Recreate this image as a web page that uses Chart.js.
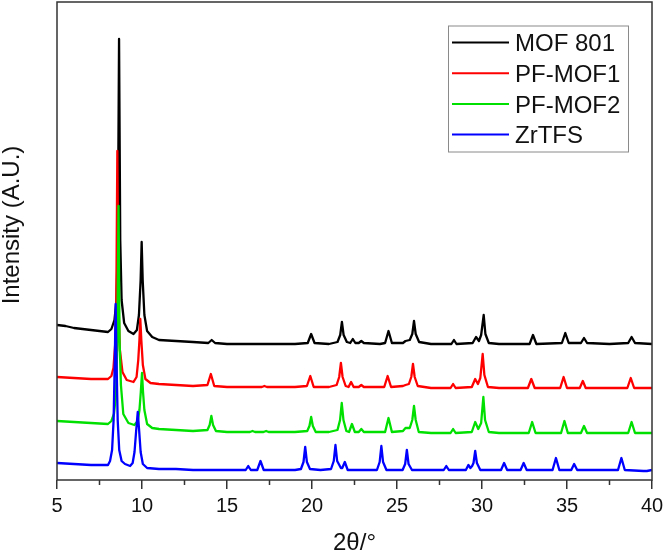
<!DOCTYPE html>
<html>
<head>
<meta charset="utf-8">
<script src="https://cdn.jsdelivr.net/npm/chart.js@4.4.0/dist/chart.umd.min.js"></script>
<style>
  html, body { margin: 0; padding: 0; background: #fff; }
  #wrap { width: 664px; height: 555px; }
</style>
</head>
<body>
<div id="wrap"><canvas id="c" width="664" height="555"></canvas></div>
<script>
// ---- data (2θ in degrees, intensity in arbitrary offset units) ----
const seriesNames = ["MOF 801", "PF-MOF1", "PF-MOF2", "ZrTFS"];
const seriesColors = ["#000000", "#ff0000", "#00e000", "#0000ff"];
const xTickLabels = [5, 10, 15, 20, 25, 30, 35, 40];
const xMinorTicks = [7.5, 12.5, 17.5, 22.5, 27.5, 32.5, 37.5];

const mof801 = [[5,155],[5.5,154],[6,152],[6.5,151],[7,150],[7.5,149],[8,148],[8.2,151],[8.38,160],[8.5,180],[8.58,240],[8.65,441],[8.72,240],[8.8,180],[8.95,157],[9.2,149],[9.5,146],[9.7,150],[9.82,165],[9.92,200],[9.98,238],[10.04,200],[10.14,165],[10.3,149],[10.6,143],[11,140],[12,139],[13,138],[13.9,137],[14.1,140],[14.3,137],[15,136],[16,136],[17,136],[18,136],[19,136],[19.75,137],[19.95,146],[20.15,137],[21,136],[21.5,138],[21.66,145],[21.76,158],[21.86,145],[22.05,138],[22.25,137],[22.4,141],[22.55,137],[22.75,137],[22.9,139],[23.05,137],[24,136],[24.3,137],[24.5,149],[24.7,137],[25.35,137],[25.5,139],[25.75,140],[25.9,146],[26,159],[26.1,146],[26.3,138],[27,136],[28.2,136],[28.35,140],[28.5,136],[29.45,137],[29.65,143],[29.82,139],[29.95,145],[30.1,165],[30.2,146],[30.4,137],[31,136],[32,136],[32.8,136],[33,145],[33.2,136],[34.7,137],[34.9,147],[35.1,137],[35.82,137],[36,142],[36.18,137],[37.5,136],[38.6,137],[38.8,143],[39,137],[40,136]];

const pfMof1 = [[5,103],[6,102],[7,101],[8,101],[8.2,104],[8.32,112],[8.42,135],[8.49,180],[8.55,329],[8.61,180],[8.7,130],[8.85,108],[9.1,100],[9.5,98],[9.68,103],[9.78,120],[9.85,140],[9.9,161],[9.96,140],[10.05,115],[10.2,101],[10.5,97],[11,96],[12,95],[13,94],[13.85,95],[14.05,106],[14.25,94],[15,93],[16,93],[17.05,93],[17.2,94],[17.35,93],[18,93],[19,93],[19.7,94],[19.9,104],[20.1,93],[21,93],[21.45,95],[21.6,103],[21.7,117],[21.8,103],[21.98,94],[22.15,93],[22.3,98],[22.45,93],[22.75,93],[22.9,95],[23.05,93],[24.25,93],[24.45,104],[24.65,93],[25.35,94],[25.5,95],[25.7,96],[25.84,103],[25.94,116],[26.04,103],[26.22,94],[27,92],[28.15,92],[28.3,96],[28.45,92],[29.4,93],[29.6,101],[29.76,96],[29.9,102],[30.04,126],[30.14,105],[30.35,93],[31,92],[32.7,92],[32.9,101],[33.1,92],[34.6,92],[34.8,103],[35,92],[35.75,92],[35.93,99],[36.1,92],[38.55,92],[38.75,102],[38.95,92],[40,92]];

const pfMof2 = [[5,59],[6,58],[7,57],[8,56],[8.2,59],[8.35,66],[8.47,85],[8.55,140],[8.62,274],[8.68,140],[8.76,95],[8.9,66],[9.2,57],[9.55,55],[9.75,59],[9.85,70],[9.93,88],[10,107],[10.06,88],[10.14,70],[10.3,56],[10.6,52],[11,51],[12,50],[13,49],[13.85,50],[13.98,55],[14.08,64],[14.18,55],[14.35,49],[15,48],[16.35,48],[16.5,49],[16.65,48],[17.15,48],[17.3,49],[17.45,48],[19,48],[19.72,49],[19.85,54],[19.95,63],[20.05,54],[20.22,48],[21,48],[21.5,50],[21.65,60],[21.75,77],[21.85,60],[22.02,49],[22.18,48],[22.35,56],[22.52,48],[22.75,48],[22.9,51],[23.05,48],[24.3,48],[24.5,62],[24.7,48],[25.35,49],[25.5,52],[25.75,52],[25.9,60],[26,74],[26.1,60],[26.28,48],[27,47],[28.15,47],[28.3,51],[28.45,47],[29.4,48],[29.6,58],[29.78,51],[29.95,57],[30.08,83],[30.18,60],[30.4,48],[31,47],[32.75,47],[32.95,58],[33.15,47],[34.65,47],[34.85,59],[35.05,47],[35.82,47],[36,54],[36.18,47],[38.6,47],[38.8,58],[39,47],[40,47]];

const zrTfs = [[5,17],[6,16],[7,15],[8,15],[8.12,19],[8.24,30],[8.33,60],[8.4,120],[8.45,176],[8.5,120],[8.57,60],[8.66,30],[8.8,19],[9,16],[9.3,14],[9.45,17],[9.56,28],[9.66,50],[9.75,68],[9.83,50],[9.92,28],[10.05,16],[10.3,12],[11,11],[12,11],[13,10],[15,10],[16.1,10],[16.25,14],[16.4,10],[16.78,10],[16.97,19],[17.16,10],[18,10],[19,10],[19.35,11],[19.5,18],[19.6,33],[19.7,18],[19.88,11],[20.5,10],[21.12,11],[21.28,19],[21.38,35],[21.48,19],[21.7,12],[21.78,12],[21.93,18],[22.1,10],[23,10],[23.82,10],[23.98,18],[24.08,34],[24.18,18],[24.38,10],[25.33,10],[25.48,16],[25.58,30],[25.68,16],[25.88,10],[27,10],[27.75,10],[27.9,14],[28.05,10],[29.05,10],[29.2,15],[29.32,12],[29.42,14],[29.5,17],[29.6,29],[29.7,17],[29.9,10],[31.12,10],[31.3,17],[31.48,10],[32.27,10],[32.45,17],[32.63,10],[34.15,10],[34.35,22],[34.55,10],[35.25,10],[35.42,16],[35.6,10],[38,10],[38.2,22],[38.4,10],[39.5,9],[39.7,9],[40,10]];

const allSeries = [mof801, pfMof1, pfMof2, zrTfs];

// ---- chart ----
const FONT = "'Liberation Sans', Arial, Helvetica, sans-serif";
const AXIS_COLOR = "#333333";

const framePlugin = {
  id: 'frame',
  afterDraw(chart) {
    const {ctx, chartArea: a, scales} = chart;
    ctx.save();
    ctx.strokeStyle = AXIS_COLOR;
    ctx.lineWidth = 1.5;
    ctx.strokeRect(a.left, a.top, a.right - a.left, a.bottom - a.top);
    ctx.beginPath();
    xMinorTicks.forEach(v => {
      const px = scales.x.getPixelForValue(v);
      ctx.moveTo(px, a.bottom);
      ctx.lineTo(px, a.bottom + 5);
    });
    ctx.stroke();
    ctx.fillStyle = '#111';
    ctx.font = "24px " + FONT;
    ctx.textAlign = 'center';
    ctx.textBaseline = 'middle';
    ctx.translate(12, 225);
    ctx.rotate(-Math.PI / 2);
    ctx.fillText('Intensity (A.U.)', 0, 0);
    ctx.restore();

    ctx.save();
    const bx = 448.5, by = 26, bw = 180, bh = 126;
    ctx.strokeStyle = '#8a8a8a';
    ctx.lineWidth = 1;
    ctx.strokeRect(bx, by, bw, bh);
    ctx.font = "24px " + FONT;
    ctx.textAlign = 'left';
    ctx.textBaseline = 'alphabetic';
    chart.data.datasets.forEach((ds, i) => {
      const ly = 42.5 + i * 30.7;
      ctx.strokeStyle = ds.borderColor;
      ctx.lineWidth = 2;
      ctx.beginPath();
      ctx.moveTo(452, ly);
      ctx.lineTo(509, ly);
      ctx.stroke();
      ctx.fillStyle = '#111';
      ctx.fillText(ds.label, 515, ly + 8.7);
    });
    ctx.restore();
  }
};

new Chart(document.getElementById('c'), {
  type: 'line',
  data: {
    datasets: allSeries.map((pts, i) => ({
      label: seriesNames[i],
      data: pts.map(p => ({x: p[0], y: p[1]})),
      borderColor: seriesColors[i],
      borderWidth: 2.3,
      borderJoinStyle: 'round',
      pointRadius: 0,
      tension: 0,
      fill: false,
      order: 4 - i
    }))
  },
  options: {
    responsive: false,
    animation: false,
    layout: { padding: { top: 2, right: 12, left: 0, bottom: 0 } },
    plugins: { legend: { display: false }, tooltip: { enabled: false } },
    scales: {
      x: {
        type: 'linear',
        min: 5, max: 40,
        afterBuildTicks(scale) { scale.ticks = xTickLabels.map(v => ({value: v})); },
        afterFit(scale) { scale.height = 75; scale.paddingLeft = 0; scale.paddingRight = 0; },
        ticks: {
          color: '#111',
          font: { family: FONT, size: 20 },
          padding: 5,
          maxRotation: 0,
          autoSkip: false
        },
        grid: {
          drawOnChartArea: false,
          drawTicks: true,
          tickLength: 9,
          tickColor: AXIS_COLOR,
          lineWidth: 1.5
        },
        border: { display: false },
        title: {
          display: true,
          text: '2θ/°',
          color: '#111',
          font: { family: FONT, size: 24, lineHeight: 1 },
          padding: { top: 0, bottom: 0 }
        }
      },
      y: {
        type: 'linear',
        min: 0, max: 478,
        afterFit(scale) { scale.width = 57; },
        ticks: { display: false },
        grid: { display: false },
        border: { display: false }
      }
    }
  },
  plugins: [framePlugin]
});
</script>
</body>
</html>
